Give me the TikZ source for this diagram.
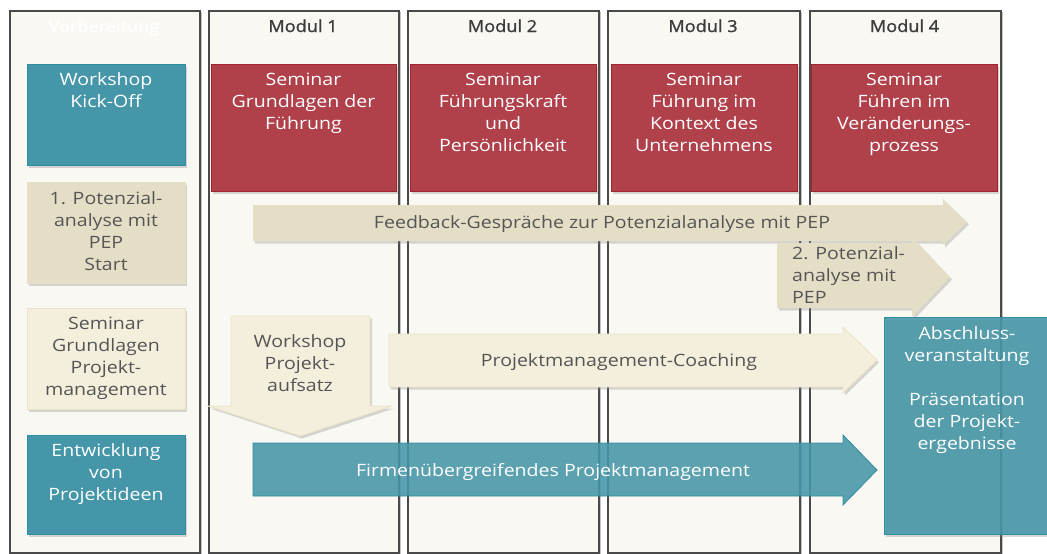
\documentclass[tikz,border=0pt]{standalone}
\usepackage{fontspec}
\setmainfont{Open Sans}[FakeStretch=1.15]
\newfontfamily\headfont{Open Sans}[FakeStretch=1.1, FakeBold=1.3]
\usetikzlibrary{shadows}
\definecolor{colbg}{HTML}{FAF8F2}
\definecolor{colline}{HTML}{4A4A4A}
\definecolor{teal1}{HTML}{4596A8}
\definecolor{teal2}{HTML}{2E8EA2}
\definecolor{red1}{HTML}{B0414B}
\definecolor{red2}{HTML}{A3232F}
\definecolor{tan1}{HTML}{E5DEC6}
\definecolor{cream1}{HTML}{F3EFDC}
\definecolor{cream2}{HTML}{EAE3C8}
\definecolor{txtgray}{HTML}{555555}
\definecolor{headgray}{HTML}{3C3C3C}
\begin{document}
\begin{tikzpicture}[x=1pt,y=-1pt,
  fnt/.style={font=\fontsize{17}{22}\selectfont},
  colbox/.style={draw=colline, line width=1.6pt, fill=colbg, anchor=north west, inner sep=0pt,
    drop shadow={shadow xshift=2.5pt, shadow yshift=-1pt, opacity=0.45}},
  box/.style={anchor=north west, inner sep=0pt, line width=0.8pt,
    drop shadow={shadow xshift=2pt, shadow yshift=-2.5pt, opacity=0.3}},
  tealbox/.style={box, fill=teal1, draw=teal2},
  redbox/.style={box, fill=red1, draw=red2},
  tanbox/.style={box, fill=tan1, draw=tan1},
  creambox/.style={box, fill=cream1, draw=cream2},
  tb/.style={fnt, anchor=north, yshift=15.4pt, inner sep=0pt, align=center, execute at begin node=\strut},
  wt/.style={tb, text=white},
  gt/.style={tb, text=txtgray},
  gtl/.style={gt, anchor=north west, align=left},
  head/.style={font=\headfont\fontsize{16.5}{22}\selectfont, anchor=base, inner sep=0pt, text=headgray},
]
\useasboundingbox (0,0) rectangle (1047,554);
\fill[white] (0,0) rectangle (1047,554);

% columns
\node[colbox, minimum width=190pt, minimum height=542pt] (c0) at (9,10) {};
\node[colbox, minimum width=190pt, minimum height=542pt] (c1) at (208,10) {};
\node[colbox, minimum width=191pt, minimum height=542pt] (c2) at (407,10) {};
\node[colbox, minimum width=192pt, minimum height=542pt] (c3) at (607,10) {};
\node[colbox, minimum width=191pt, minimum height=542pt] (c4) at (809,10) {};

% headers
\node[head, text=white] (h0) at (104,32) {Vorbereitung};
\node[head] (h1) at (303,32) {Modul 1};
\node[head] (h2) at (502.5,32) {Modul 2};
\node[head] (h3) at (703,32) {Modul 3};
\node[head] (h4) at (904.5,32) {Modul 4};

% seminar boxes
\node[redbox, minimum width=185pt, minimum height=127pt] (r1) at (211,64) {};
\node[redbox, minimum width=186pt, minimum height=127pt] (r2) at (410,64) {};
\node[redbox, minimum width=186pt, minimum height=127pt] (r3) at (611,64) {};
\node[redbox, minimum width=186pt, minimum height=127pt] (r4) at (811,64) {};
\node[wt] (r1t) at (303.5,88) {Seminar\\Grundlagen der\\Führung};
\node[wt] (r2t) at (503,88) {Seminar\\Führungskraft\\und\\Persönlichkeit};
\node[wt] (r3t) at (704,88) {Seminar\\Führung im\\Kontext des\\Unternehmens};
\node[wt] (r4t) at (904,88) {Seminar\\Führen im\\Veränderungs-\\prozess};

% left column boxes
\node[tealbox, minimum width=158pt, minimum height=101pt] (k) at (27,64) {};
\node[wt] (kt) at (106,88) {Workshop\\Kick-Off};
\node[tanbox, minimum width=158pt, minimum height=101pt] (p1) at (27,182) {};
\node[gt] (p1t) at (106,207) {1. Potenzial-\\analyse mit\\PEP\\Start};
\node[creambox, minimum width=158pt, minimum height=101pt] (sg) at (27,308) {};
\node[gt] (sgt) at (106,332) {Seminar\\Grundlagen\\Projekt-\\management};
\node[tealbox, minimum width=158pt, minimum height=99pt] (ew) at (27,435) {};
\node[wt] (ewt) at (106,459) {Entwicklung\\von\\Projektideen};

% feedback arrow
\fill[tan1, drop shadow={shadow xshift=2pt, shadow yshift=-2.5pt, opacity=0.3}]
  (253,205) -- (943,205) -- (943,199) -- (967,222) -- (943,245) -- (943,241) -- (253,241) -- cycle;
\node[gt] (fbt) at (602,228) {Feedback-Gespräche zur Potenzialanalyse mit PEP};

% 2. Potenzialanalyse arrow
\fill[tan1, drop shadow={shadow xshift=2pt, shadow yshift=-2.5pt, opacity=0.3}]
  (777,243) -- (912,243) -- (912,237) -- (950,277) -- (912,317) -- (912,308) -- (777,308) -- cycle;
\node[gtl] (p2t) at (792,262) {2. Potenzial-\\analyse mit\\PEP};

% workshop projektaufsatz down arrow
\filldraw[cream1, draw=cream2, line width=0.8pt, drop shadow={shadow xshift=2pt, shadow yshift=-2.5pt, opacity=0.3}]
  (231,316) -- (370,316) -- (370,406) -- (392,406) -- (300,436) -- (208,406) -- (231,406) -- cycle;
\node[gt] (wpt) at (300,350) {Workshop\\Projekt-\\aufsatz};

% coaching arrow
\filldraw[cream1, draw=cream2, line width=0.8pt, drop shadow={shadow xshift=2pt, shadow yshift=-2.5pt, opacity=0.3}]
  (389,334) -- (843,334) -- (843,327) -- (877,360) -- (843,393) -- (843,387) -- (389,387) -- cycle;
\node[gt] (pmt) at (619,366) {Projektmanagement-Coaching};

% firmenuebergreifendes arrow
\filldraw[teal1, draw=teal2, line width=0.8pt, fill opacity=0.88]
  (253,443) -- (843,443) -- (843,435) -- (877,470) -- (843,505) -- (843,496) -- (253,496) -- cycle;
\node[wt] (fpt) at (553,476) {Firmenübergreifendes Projektmanagement};

% Abschluss
\node[box, fill=teal1, draw=teal2, fill opacity=0.88, minimum width=170pt, minimum height=217pt] (ab) at (884,317) {};
\node[wt] (abt) at (967,342) {Abschluss-\\veranstaltung\\[22pt]Präsentation\\der Projekt-\\ergebnisse};
\end{tikzpicture}
\end{document}
